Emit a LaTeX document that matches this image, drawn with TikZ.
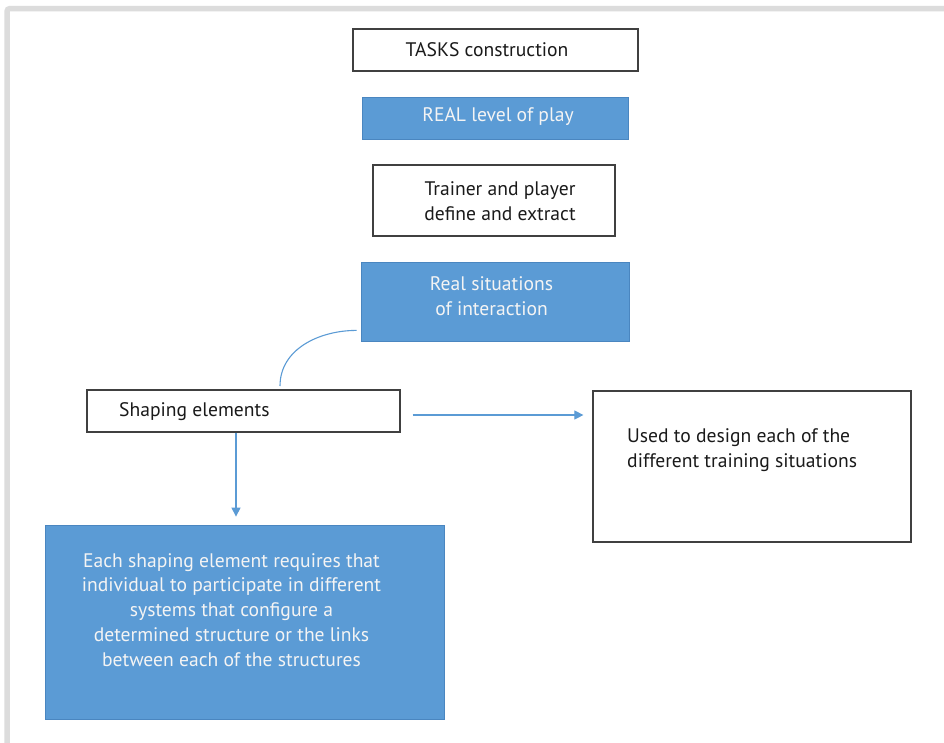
\documentclass[tikz,border=0pt]{standalone}
\usepackage{fontspec}
\setmainfont{PT Sans}
\usetikzlibrary{arrows.meta}
\definecolor{boxblue}{HTML}{5B9BD5}
\definecolor{boxedge}{HTML}{4A86C0}
\definecolor{edgegray}{HTML}{404040}
\definecolor{framegray}{HTML}{DCDCDC}
\definecolor{linkblue}{HTML}{5B9BD5}
\definecolor{paletext}{HTML}{F4F4F4}
\definecolor{inktext}{HTML}{1A1A1A}
\begin{document}
\begin{tikzpicture}[x=1pt,y=1pt,
  plainbox/.style={draw=edgegray, line width=1.2pt, fill=white, rectangle, inner sep=0pt},
  bluebox/.style={draw=boxedge, line width=0.8pt, fill=boxblue, rectangle, inner sep=0pt},
  txt/.style={font=\fontsize{19.6}{24.7}\selectfont, inner sep=0pt, text=inktext},
  wtxt/.style={txt, text=paletext},
  link/.style={draw=linkblue, line width=1.1pt},
  linkarrow/.style={link, -{Triangle[length=9pt,width=9pt]}}
]
% page and its grey frame
\useasboundingbox (0,0) rectangle (944,-742);
\fill[white] (0,0) rectangle (944,-742);
\begin{scope}
  \clip (0,0) rectangle (944,-742);
  \draw[framegray, line width=5.5pt, rounded corners=3pt] (7,-8.5) rectangle (970,-770);
\end{scope}

% boxes
\node[plainbox, minimum width=285, minimum height=42] (tasks) at (495.5,-50) {};
\node[bluebox,  minimum width=266, minimum height=42] (real) at (495,-118) {};
\node[plainbox, minimum width=242, minimum height=71] (trainer) at (494,-200.5) {};
\node[bluebox,  minimum width=268, minimum height=79] (situations) at (495,-301.5) {};
\node[plainbox, minimum width=313, minimum height=42] (shaping) at (243.5,-411) {};
\node[plainbox, minimum width=318, minimum height=151] (used) at (752,-466.5) {};
\node[bluebox,  minimum width=399, minimum height=194] (each) at (244.5,-622) {};

% texts (multi-line nodes are anchored at the baseline of their last line)
\node[txt, anchor=base] (tasksT) at (487,-56.5) {TASKS construction};
\node[wtxt, anchor=base] (realT) at (498,-121) {REAL level of play};
\node[txt, anchor=base, align=center] (trainerT) at (500,-220) {Trainer and player\\define and extract};
\node[wtxt, anchor=base, align=center] (situationsT) at (491.5,-315) {Real situations\\of interaction};
\node[txt, anchor=base west] (shapingT) at (119,-416) {Shaping elements};
\node[txt, anchor=base west, align=left] (usedT) at (627,-467) {Used to design each of the\\different training situations};
\node[wtxt, anchor=base, align=center] (eachT) at (231.5,-666) {Each shaping element requires that\\individual to participate in different\\systems that configure a\\determined structure or the links\\between each of the structures};

% connectors
\coordinate (curveStart) at ([xshift=-4pt,yshift=11pt]situations.south west);
\coordinate (curveEnd) at (280,-386);
\draw[link] (curveStart) to[out=180,in=90] (curveEnd);
\coordinate (sideStart) at ([xshift=12pt,yshift=-4pt]shaping.east);
\draw[linkarrow] (sideStart) -- ([xshift=-9pt]sideStart -| used.west);
\coordinate (downStart) at (236,-433);
\draw[linkarrow] (downStart) -- ([yshift=8pt]downStart |- each.north);
\end{tikzpicture}
\end{document}
